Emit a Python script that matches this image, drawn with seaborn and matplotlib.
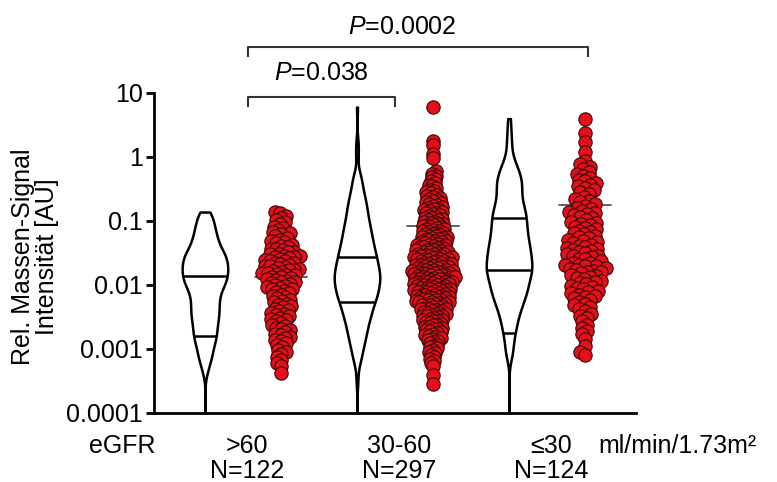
import numpy as np
import pandas as pd
import matplotlib
matplotlib.use("Agg")
import matplotlib.pyplot as plt
import seaborn as sns
from matplotlib.transforms import blended_transform_factory

# ---------------- data (log10 of relative mass-signal intensity) ----------------
groups = [">60", "30-60", "≤30"]
group_n = ["N=122", "N=297", "N=124"]

log_gt60 = [
    -0.86, -0.88,
    -0.92, -0.96, -0.99,
    -1.02, -1.05, -1.09,
    -1.11, -1.14, -1.17, -1.19,
    -1.21, -1.24, -1.26, -1.29,
    -1.31, -1.33, -1.35, -1.37, -1.39,
    -1.41, -1.43, -1.44, -1.46, -1.48, -1.49,
    -1.51, -1.52, -1.54, -1.55, -1.56, -1.57, -1.58, -1.59,
    -1.61, -1.62, -1.63, -1.65, -1.66, -1.67, -1.68, -1.70,
    -1.71, -1.72, -1.74, -1.75, -1.76, -1.77, -1.78, -1.79,
    -1.81, -1.82, -1.83, -1.84, -1.85, -1.87, -1.88, -1.89,
    -1.91, -1.92, -1.93, -1.95, -1.96, -1.97, -1.98, -2.00,
    -2.01, -2.03, -2.04, -2.06, -2.07, -2.09,
    -2.11, -2.13, -2.15, -2.17, -2.19,
    -2.21, -2.23, -2.25, -2.27, -2.29,
    -2.31, -2.33, -2.35, -2.37, -2.39,
    -2.41, -2.43, -2.45, -2.47, -2.49,
    -2.51, -2.53, -2.55, -2.57, -2.59,
    -2.62, -2.64, -2.67, -2.69,
    -2.71, -2.74, -2.76, -2.78,
    -2.81, -2.83, -2.86, -2.88,
    -2.91, -2.94, -2.97,
    -3.02, -3.05, -3.08,
    -3.12, -3.17,
    -3.22, -3.27,
    -3.38,
    -4.60,
]

log_30_60 = [
    0.78,
    0.25, 0.18, 0.05, -0.02,
    -0.22, -0.26, -0.29,
    -0.32, -0.35, -0.38,
    -0.41, -0.43, -0.46, -0.48,
    -0.51, -0.53, -0.55, -0.57, -0.59,
    -0.61, -0.62, -0.64, -0.66, -0.67, -0.69,
    -0.71, -0.72, -0.73, -0.75, -0.76, -0.78, -0.79,
    -0.81, -0.82, -0.83, -0.84, -0.86, -0.87, -0.88, -0.89,
    -0.91, -0.92, -0.93, -0.95, -0.96, -0.97, -0.98, -0.99,
    -1.01, -1.02, -1.03, -1.04, -1.05, -1.06, -1.07, -1.08, -1.09,
    -1.10, -1.11, -1.12, -1.13, -1.14, -1.15, -1.16, -1.17, -1.18, -1.19,
    -1.20, -1.21, -1.22, -1.23, -1.24, -1.25, -1.25, -1.26, -1.27, -1.28, -1.29,
    -1.30, -1.31, -1.32, -1.33, -1.33, -1.34, -1.35, -1.36, -1.37, -1.38, -1.38, -1.39,
    -1.40, -1.41, -1.41, -1.42, -1.43, -1.44, -1.45, -1.46, -1.46, -1.47, -1.48, -1.49, -1.49,
    -1.50, -1.51, -1.51, -1.52, -1.53, -1.54, -1.54, -1.55, -1.56, -1.57, -1.57, -1.58, -1.59, -1.59,
    -1.60, -1.60, -1.61, -1.62, -1.62, -1.63, -1.64, -1.65, -1.65, -1.66, -1.67, -1.67, -1.68, -1.69, -1.69,
    -1.70, -1.70, -1.71, -1.72, -1.72, -1.73, -1.74, -1.74, -1.75, -1.76, -1.76, -1.77, -1.78, -1.78, -1.79, -1.79,
    -1.80, -1.80, -1.81, -1.81, -1.82, -1.83, -1.83, -1.84, -1.85, -1.85, -1.86, -1.86, -1.87, -1.88, -1.88, -1.89, -1.89,
    -1.90, -1.90, -1.91, -1.91, -1.92, -1.93, -1.93, -1.94, -1.95, -1.95, -1.96, -1.96, -1.97, -1.98, -1.98, -1.99, -1.99,
    -2.00, -2.00, -2.01, -2.02, -2.02, -2.03, -2.04, -2.04, -2.05, -2.06, -2.06, -2.07, -2.08, -2.08, -2.09, -2.09,
    -2.10, -2.11, -2.11, -2.12, -2.13, -2.13, -2.14, -2.15, -2.15, -2.16, -2.17, -2.17, -2.18, -2.19, -2.19,
    -2.20, -2.21, -2.21, -2.22, -2.23, -2.24, -2.24, -2.25, -2.26, -2.27, -2.27, -2.28, -2.29, -2.29,
    -2.30, -2.31, -2.32, -2.33, -2.34, -2.35, -2.36, -2.37, -2.38, -2.38, -2.39,
    -2.40, -2.41, -2.42, -2.43, -2.44, -2.45, -2.46, -2.47, -2.48, -2.48, -2.49,
    -2.50, -2.51, -2.53, -2.54, -2.55, -2.56, -2.57, -2.58, -2.59,
    -2.61, -2.62, -2.63, -2.65, -2.66, -2.67, -2.68, -2.69,
    -2.71, -2.72, -2.74, -2.75, -2.76, -2.78, -2.79,
    -2.81, -2.83, -2.84, -2.86, -2.87, -2.89,
    -2.91, -2.93, -2.95, -2.97, -2.99,
    -3.01, -3.04, -3.06, -3.09,
    -3.12, -3.15, -3.18,
    -3.22, -3.27,
    -3.40, -3.55,
    -4.60,
]

log_le30 = [
    0.60,
    0.37, 0.23, 0.08,
    -0.06, -0.11, -0.15, -0.19,
    -0.24, -0.27, -0.29, -0.33, -0.36, -0.38,
    -0.41, -0.44, -0.46, -0.49,
    -0.52, -0.55, -0.58,
    -0.62, -0.65, -0.68,
    -0.71, -0.74, -0.76, -0.79,
    -0.81, -0.84, -0.86, -0.88, -0.89,
    -0.91, -0.93, -0.96, -0.98,
    -1.01, -1.03, -1.04, -1.06, -1.09,
    -1.11, -1.13, -1.15, -1.17, -1.19,
    -1.21, -1.23, -1.25, -1.27, -1.29,
    -1.31, -1.33, -1.35, -1.37, -1.39,
    -1.40, -1.42, -1.44, -1.45, -1.47, -1.49,
    -1.50, -1.52, -1.54, -1.55, -1.57, -1.59,
    -1.60, -1.63, -1.65, -1.66, -1.68, -1.69,
    -1.70, -1.71, -1.74, -1.75, -1.77, -1.78, -1.79,
    -1.80, -1.82, -1.85, -1.86, -1.88, -1.89,
    -1.90, -1.94, -1.95, -1.97, -1.99,
    -2.01, -2.03, -2.05, -2.07, -2.09,
    -2.11, -2.13, -2.15, -2.17, -2.19,
    -2.21, -2.24, -2.26, -2.29,
    -2.32, -2.35, -2.38,
    -2.41, -2.45, -2.48,
    -2.52, -2.57,
    -2.62, -2.67,
    -2.72, -2.77,
    -2.85, -2.95, -3.05, -3.10,
    -4.60,
]

mean_lines = [0.0135, 0.085, 0.18]                 # horizontal line in the dot columns
violin_lines = [[0.014, 0.0016], [0.027, 0.0055], [0.11, 0.017, 0.0018]]
yticks = [1e-4, 1e-3, 1e-2, 1e-1, 1, 10]
ytick_labels = ["0.0001", "0.001", "0.01", "0.1", "1", "10"]
p_short = "0.038"
p_long = "0.0002"

# ---------------- styling ----------------
sns.set_style("ticks")
plt.rcParams["font.family"] = ["Liberation Sans", "DejaVu Sans"]
plt.rcParams["mathtext.fontset"] = "custom"
plt.rcParams["mathtext.rm"] = "Liberation Sans"
plt.rcParams["mathtext.it"] = "Liberation Sans:italic"
for k in ["text.color", "axes.labelcolor", "xtick.color", "ytick.color", "axes.edgecolor"]:
    plt.rcParams[k] = "black"
FS = 18

slots_v = ["v0", "v1", "v2"]
slots_d = ["d0", "d1", "d2"]
order = ["v0", "d0", "v1", "d1", "v2", "d2"]
all_logs = [log_gt60, log_30_60, log_le30]

vrows, drows = [], []
for i, arr in enumerate(all_logs):
    vals = np.power(10.0, np.array(arr))
    vrows.append(pd.DataFrame({"slot": slots_v[i], "value": vals}))
    drows.append(pd.DataFrame({"slot": slots_d[i], "value": vals}))
df_v = pd.concat(vrows, ignore_index=True)

fig = plt.figure(figsize=(7.77, 4.82), dpi=100)
ax = fig.add_axes([154 / 777, 1 - 413 / 482, (636 - 154) / 777, (413 - 93) / 482])

sns.violinplot(data=df_v, x="slot", y="value", order=order, log_scale=True,
               cut=0, density_norm="width", width=0.6, bw_adjust=0.45,
               inner=None, color="white", saturation=1, linecolor="black",
               linewidth=1.8, ax=ax)

ax.set_ylim(1e-4, 10)
ax.set_xlim(-0.67, 5.67)

# lines inside violins, width taken from the violin outline
vcolls = list(ax.collections)
for i, coll in enumerate(vcolls[:3]):
    center = order.index(slots_v[i])
    verts = coll.get_paths()[0].vertices
    right = verts[verts[:, 0] > center + 1e-9]
    ys = right[:, 1]
    ly = ys if (ys <= 0).any() else np.log10(ys)
    srt = np.argsort(ly)
    for val in violin_lines[i]:
        hw = np.interp(np.log10(val), ly[srt], right[srt, 0] - center)
        ax.plot([center - hw, center + hw], [val, val], color="black", lw=1.8,
                solid_capstyle="butt", zorder=3)

# mean lines beneath dots
for i, val in enumerate(mean_lines):
    c = order.index(slots_d[i])
    ax.plot([c - 0.34, c + 0.34], [val, val], color="#555555", lw=1.3, zorder=1)

# dots: swarm layout computed with small markers, then drawn with big overlapping markers
swarm_size = [2.9, 2.0, 3.5]
swarm_colls = []
for i in range(3):
    before = set(ax.collections)
    sns.swarmplot(data=drows[i], x="slot", y="value", order=order, log_scale=True,
                  size=swarm_size[i], color="#e3101b", edgecolor="#3a0808",
                  linewidth=0.8, warn_thresh=1.0, ax=ax, zorder=2)
    swarm_colls += [c for c in ax.collections if c not in before]

ax.set_ylim(1e-4, 10)
ax.set_xlim(-0.67, 5.67)
fig.canvas.draw()
for c in swarm_colls:
    if "draw" in c.__dict__:
        del c.__dict__["draw"]
    c.set_sizes([9.6 ** 2])
    c.set_linewidth(0.8)

ax.set_yscale("log")
ax.set_ylim(1e-4, 10)
ax.set_xlim(-0.67, 5.67)
ax.set_yticks(yticks)
ax.set_yticklabels(ytick_labels)
ax.yaxis.set_minor_locator(matplotlib.ticker.NullLocator())
ax.set_xticks([])
ax.set_xlabel("")
ax.set_ylabel("")
ax.tick_params(axis="y", length=6, width=2, labelsize=FS, pad=2, color="black",
               labelcolor="black")
for s in ["left", "bottom"]:
    ax.spines[s].set_linewidth(2)
    ax.spines[s].set_color("black")
sns.despine(ax=ax)

# y label (two lines)
fig.text(35 / 777, 1 - 257 / 482, "Rel. Massen-Signal\nIntensität [AU]", rotation=90,
         ha="center", va="center", multialignment="center", fontsize=FS,
         linespacing=1.05)

# x labels
tr = blended_transform_factory(ax.transData, fig.transFigure)
y1 = 1 - 446 / 482
y2 = 1 - 471 / 482
fig.text(122 / 777, y1, "eGFR", ha="center", va="center", fontsize=FS)
for i in range(3):
    xc = order.index(slots_v[i]) + 0.55
    ax.text(xc, y1, groups[i], transform=tr, ha="center", va="center", fontsize=FS)
    ax.text(xc, y2, group_n[i], transform=tr, ha="center", va="center", fontsize=FS)
fig.text(598 / 777, y1, "ml/min/1.73m²", ha="left", va="center", fontsize=FS)

# significance brackets
bk = dict(color="#333333", lw=1.5, clip_on=False, solid_capstyle="butt")
ax.plot([0.57, 0.57, 5.04, 5.04], [10**1.56, 10**1.72, 10**1.72, 10**1.56], **bk)
ax.text(2.6, 10**2.03, "$P$=" + p_long, ha="center", va="center", fontsize=FS)
ax.plot([0.57, 0.57, 2.5, 2.5], [10**0.78, 10**0.94, 10**0.94, 10**0.78], **bk)
ax.text(1.53, 10**1.31, "$P$=" + p_short, ha="center", va="center", fontsize=FS)

fig.savefig("out.png", dpi=100)
